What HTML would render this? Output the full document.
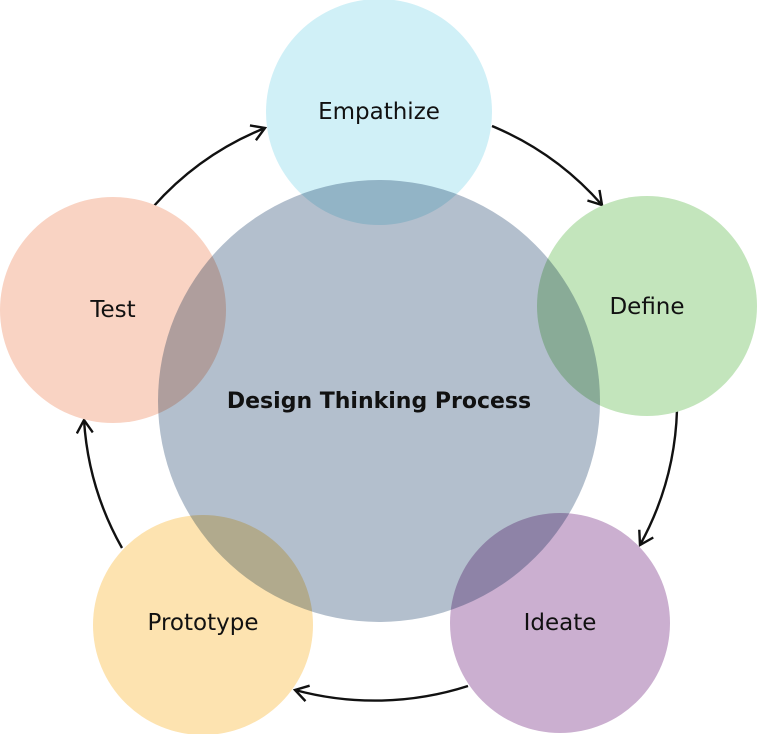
<!DOCTYPE html>
<html><head><meta charset="utf-8"><style>
html,body{margin:0;padding:0;background:#fff;}
svg{display:block;}
text{font-family:"DejaVu Sans","Liberation Sans",sans-serif;font-size:23px;fill:#111;}
</style></head><body>
<svg width="757" height="734" viewBox="0 0 757 734" xmlns="http://www.w3.org/2000/svg">
<defs>
<marker id="a" markerWidth="18" markerHeight="18" refX="14" refY="9" orient="auto" markerUnits="userSpaceOnUse">
<path d="M1,1 L14,9 L1,17" fill="none" stroke="#111" stroke-width="2.4"/>
</marker>
</defs>
<g fill="none" stroke="#111" stroke-width="2.4">
<path d="M492,126 A298,298 0 0 1 602,205" marker-end="url(#a)"/>
<path d="M677,410 A298,298 0 0 1 640,545" marker-end="url(#a)"/>
<path d="M468,686 A305,305 0 0 1 295,690" marker-end="url(#a)"/>
<path d="M122,548 A298,298 0 0 1 84,420" marker-end="url(#a)"/>
<path d="M153,207 A298,298 0 0 1 265,128" marker-end="url(#a)"/>
</g>
<circle cx="379" cy="112" r="113" fill="#d0f0f7"/>
<circle cx="647" cy="306" r="110" fill="#c3e5bc"/>
<circle cx="560" cy="623" r="110" fill="#cbafd0"/>
<circle cx="203" cy="625" r="110" fill="#fde3b0"/>
<circle cx="113" cy="310" r="113" fill="#f9d3c3"/>
<circle cx="379" cy="401" r="221" fill="#b3bfcd" style="mix-blend-mode:multiply"/>
<text x="379" y="119" text-anchor="middle">Empathize</text>
<text x="647" y="314" text-anchor="middle">Define</text>
<text x="560" y="630" text-anchor="middle">Ideate</text>
<text x="203" y="630" text-anchor="middle">Prototype</text>
<text x="113" y="317" text-anchor="middle">Test</text>
<text x="379" y="408" text-anchor="middle" font-weight="bold" style="font-size:22px">Design Thinking Process</text>
</svg>
</body></html>
